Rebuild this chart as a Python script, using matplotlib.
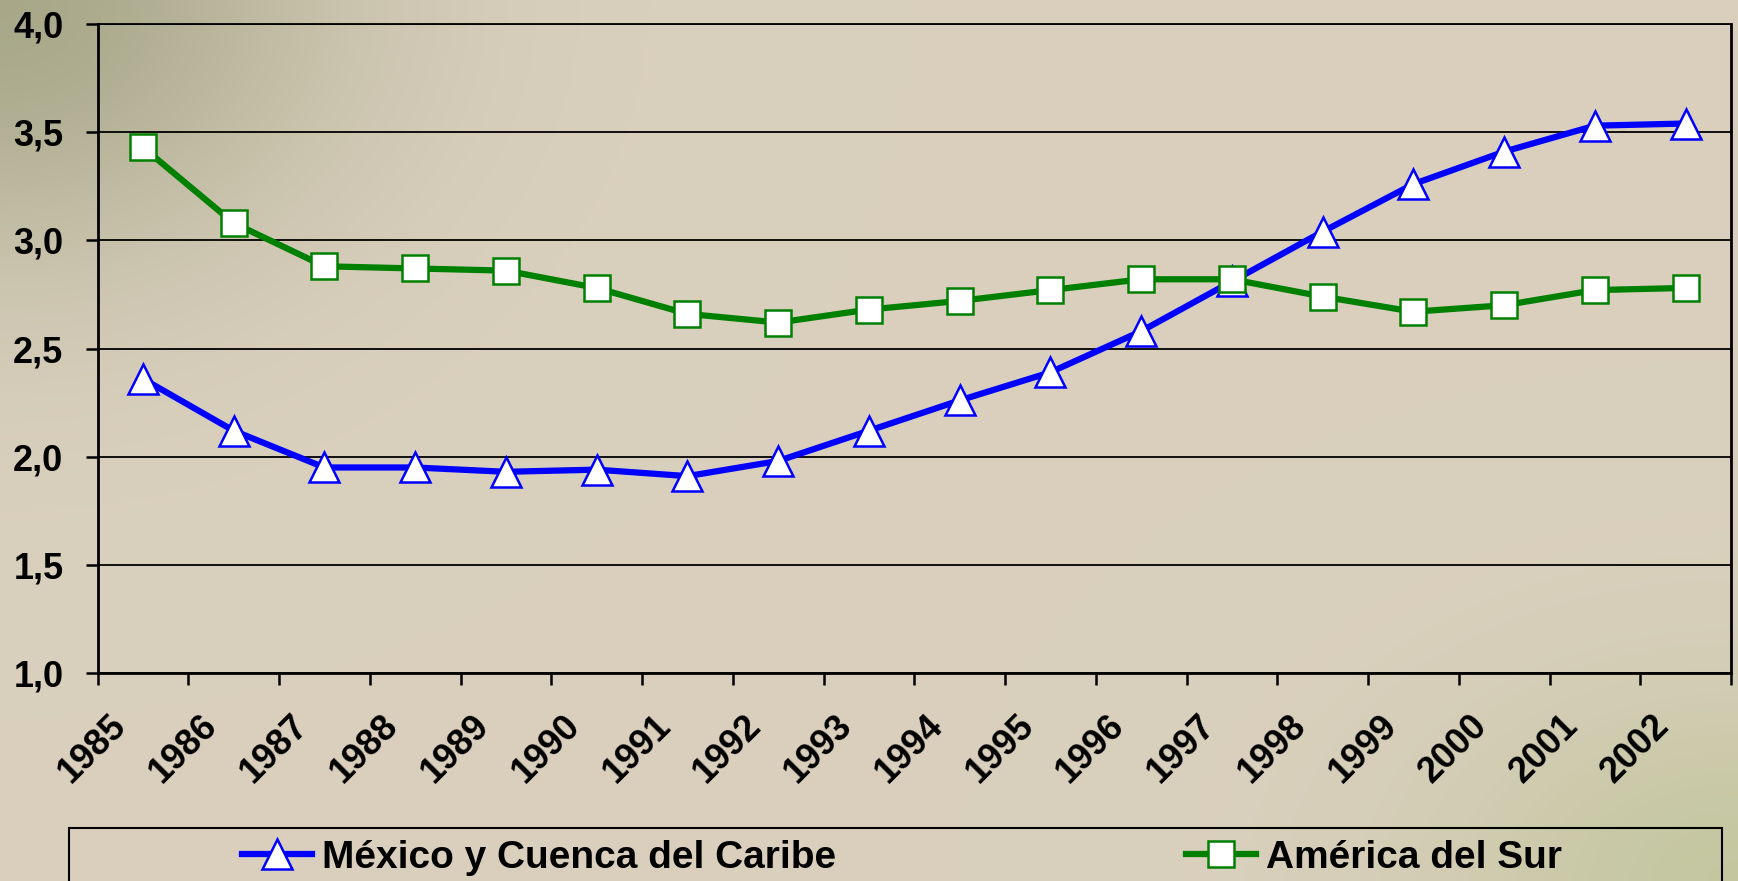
import numpy as np
import matplotlib
matplotlib.use("Agg")
import matplotlib.pyplot as plt
import matplotlib.transforms as mtransforms
from matplotlib.patches import Rectangle

years = [str(y) for y in range(1985, 2003)]
mexico_caribe = [2.36, 2.12, 1.95, 1.95, 1.93, 1.94, 1.91, 1.98, 2.12, 2.26, 2.39, 2.58,
                 2.81, 3.04, 3.26, 3.41, 3.53, 3.54]
america_sur = [3.43, 3.08, 2.88, 2.87, 2.86, 2.78, 2.66, 2.62, 2.68, 2.72, 2.77, 2.82,
               2.82, 2.74, 2.67, 2.70, 2.77, 2.78]
y_ticks = [1.0, 1.5, 2.0, 2.5, 3.0, 3.5, 4.0]

plt.rcParams['font.family'] = ['Liberation Sans', 'DejaVu Sans']
plt.rcParams['font.weight'] = 'bold'

W, H = 1738, 881
fig = plt.figure(figsize=(W / 100, H / 100), dpi=100)

# beige background, greenish towards top-left and bottom-right corners
yy, xx = np.mgrid[0:H, 0:W]
base = np.array([0.855, 0.815, 0.745])
green = np.array([0.66, 0.66, 0.54])
green2 = np.array([0.77, 0.78, 0.63])
d1 = np.exp(-(((xx - 0) / 330.0) ** 2 + ((yy - 0) / 260.0) ** 2))
d2 = np.exp(-(((xx - W) / 300.0) ** 2 + ((yy - H) / 200.0) ** 2))
bg = base * (1 - d1[..., None]) + green * d1[..., None]
bg = bg * (1 - d2[..., None]) + green2 * d2[..., None]
bg_ax = fig.add_axes([0, 0, 1, 1], zorder=-10)
bg_ax.imshow(bg, aspect='auto', extent=[0, 1, 0, 1])
bg_ax.axis('off')

ax = fig.add_axes([97.5 / W, 1 - 673 / H, (1731 - 97.5) / W, (673 - 24) / H])
ax.set_facecolor('none')

x = np.arange(len(years)) + 0.5
ax.plot(x, mexico_caribe, color='#0000ff', lw=4.5, marker='^', ms=21,
        mfc='white', mec='#0000ff', mew=1.8, label='México y Cuenca del Caribe', zorder=3)
ax.plot(x, america_sur, color='#008000', lw=4.5, marker='s', ms=19,
        mfc='white', mec='#008000', mew=1.8, label='América del Sur', zorder=3)

ax.set_xlim(0, len(years))
ax.set_ylim(1.0, 4.0)
ax.set_yticks(y_ticks)
ax.set_yticklabels([f"{v:.1f}".replace('.', ',') for v in y_ticks])
ax.yaxis.grid(True, color='black', lw=1.3)
ax.set_axisbelow(True)

ax.set_xticks(np.arange(len(years) + 1))
ax.set_xticklabels([])
ax.set_xticks(x, minor=True)
ax.set_xticklabels(years, minor=True, rotation=45, ha='right', va='center',
                   rotation_mode='anchor')
ax.tick_params(axis='x', which='minor', length=0, pad=34, labelsize=26)
ax.tick_params(axis='x', which='major', length=8.5, width=1.8, direction='out')
ax.tick_params(axis='y', length=8.5, width=1.8, pad=16, labelsize=26)
shift = mtransforms.ScaledTranslation(-0.22, 0, fig.dpi_scale_trans)
for lab in ax.get_xticklabels(minor=True):
    lab.set_transform(lab.get_transform() + shift)

for s in ['left', 'bottom', 'right']:
    ax.spines[s].set_linewidth(2)
    ax.spines[s].set_color('black')
ax.spines['top'].set_linewidth(1.3)

# legend box runs off the bottom of the picture
fig.patches.append(Rectangle((69 / W, -0.05), (1722 - 69) / W, 0.05 + (1 - 828 / H),
                             transform=fig.transFigure, fill=False, ec='black', lw=1.5))
fig.legend(loc='center', bbox_to_anchor=(0.519, 1 - 858 / H), ncol=2,
           frameon=False, fontsize=28, columnspacing=9.0, handlelength=1.8,
           handletextpad=0.25, borderpad=0)

fig.savefig('out.png', dpi=100)
